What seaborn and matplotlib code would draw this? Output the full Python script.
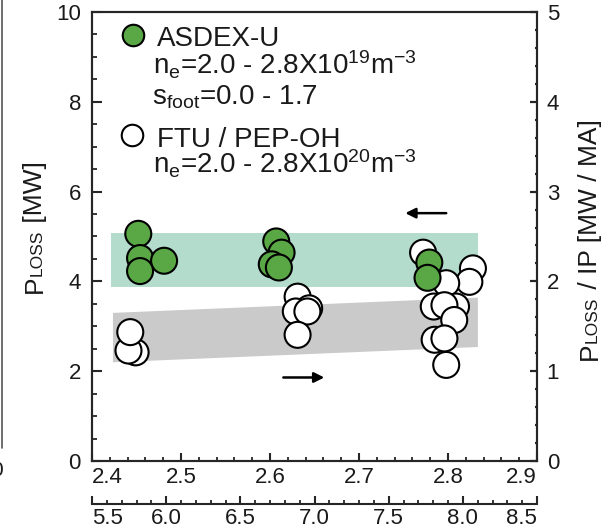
import numpy as np
import pandas as pd
import matplotlib
matplotlib.use("Agg")
import matplotlib.pyplot as plt
import matplotlib.transforms as mtrans
from matplotlib.ticker import MultipleLocator, FormatStrFormatter, FixedLocator
from matplotlib.lines import Line2D
import seaborn as sns

# ---------------- data ----------------
ftu_x = [2.449, 2.441, 2.443, 2.631, 2.644, 2.629, 2.642, 2.631,
         2.772, 2.828, 2.824, 2.798, 2.784, 2.809, 2.796, 2.807,
         2.785, 2.796, 2.798]
ftu_y = [2.42, 2.46, 2.87, 3.66, 3.40, 3.33, 3.33, 2.81,
         4.64, 4.29, 3.99, 3.96, 3.44, 3.44, 3.47, 3.14,
         2.70, 2.73, 2.14]
asdex_x = [2.452, 2.454, 2.481, 2.454, 2.607, 2.613, 2.602, 2.610,
           2.779, 2.777]
asdex_y = [5.06, 4.52, 4.46, 4.23, 4.89, 4.64, 4.38, 4.31,
           4.42, 4.08]

green_band_x = [2.421, 2.834]
green_band_lo = [3.88, 3.88]
green_band_hi = [5.07, 5.07]
gray_band_x = [2.423, 2.833]
gray_band_lo = [2.21, 2.55]
gray_band_hi = [3.31, 3.65]

xticks_main = [2.4, 2.5, 2.6, 2.7, 2.8, 2.9]
xticks_second = [5.5, 6.0, 6.5, 7.0, 7.5, 8.0, 8.5]
yticks_left = [0, 2, 4, 6, 8, 10]
yticks_right = [0, 1, 2, 3, 4, 5]

legend_lines = [
    "ASDEX-U",
    r"n$_{\mathrm{e}}$=2.0 - 2.8X10$^{19}$m$^{-3}$",
    r"s$_{\mathrm{foot}}$=0.0 - 1.7",
    "FTU / PEP-OH",
    r"n$_{\mathrm{e}}$=2.0 - 2.8X10$^{20}$m$^{-3}$",
]

# ---------------- style ----------------
sns.set_style("ticks")
plt.rcParams["font.family"] = ["Liberation Sans", "DejaVu Sans"]
plt.rcParams["mathtext.fontset"] = "custom"
plt.rcParams["mathtext.rm"] = "Liberation Sans"
plt.rcParams["mathtext.it"] = "Liberation Sans:italic"
plt.rcParams["mathtext.bf"] = "Liberation Sans:bold"
plt.rcParams["axes.linewidth"] = 1.5

GREEN = "#5aa845"
BAND_GREEN = "#b3dccd"
BAND_GRAY = "#cacaca"
TXT = "#1a1a1a"

fig = plt.figure(figsize=(6.13, 5.28), dpi=100)
ax = fig.add_axes([92 / 613, 1 - 461 / 528, (537 - 92) / 613, (461 - 12) / 528])

# bands
ax.fill_between(green_band_x, green_band_lo, green_band_hi, color=BAND_GREEN,
                linewidth=0, zorder=0)
ax.fill_between(gray_band_x, gray_band_lo, gray_band_hi, color=BAND_GRAY,
                linewidth=0, zorder=0)

df = pd.DataFrame({
    "x": ftu_x + asdex_x,
    "y": ftu_y + asdex_y,
    "machine": ["FTU/PEP-OH"] * len(ftu_x) + ["ASDEX-U"] * len(asdex_x),
})
sns.scatterplot(data=df, x="x", y="y", hue="machine",
                palette={"FTU/PEP-OH": "white", "ASDEX-U": GREEN},
                s=350, edgecolor="black", linewidth=1.5, legend=False,
                ax=ax, zorder=3)

ax.set_xlim(2.4, 2.9)
ax.set_ylim(0, 10)
ax.set_xlabel("")
ax.set_ylabel("")

# arrows
ax.annotate("", xy=(2.752, 5.52), xytext=(2.798, 5.52),
            arrowprops=dict(arrowstyle="-|>", color="black", lw=1.8,
                            mutation_scale=15, shrinkA=0, shrinkB=0))
ax.annotate("", xy=(2.661, 1.86), xytext=(2.615, 1.86),
            arrowprops=dict(arrowstyle="-|>", color="black", lw=1.8,
                            mutation_scale=15, shrinkA=0, shrinkB=0))

# in-plot legend
ax.scatter([2.446], [9.49], s=240, c=GREEN, edgecolors="black",
           linewidths=1.5, zorder=4, clip_on=False)
ax.scatter([2.4447], [7.26], s=240, c="white", edgecolors="black",
           linewidths=1.5, zorder=4, clip_on=False)
leg_pos = [(2.473, 9.24), (2.469, 8.60), (2.467, 7.93), (2.473, 6.99),
           (2.469, 6.41)]
for (lx, ly), txt in zip(leg_pos, legend_lines):
    ax.text(lx, ly, txt, fontsize=20, ha="left", va="baseline", color=TXT)

# ticks main axes
ax.xaxis.set_major_locator(FixedLocator(xticks_main))
ax.xaxis.set_minor_locator(MultipleLocator(0.02))
ax.xaxis.set_major_formatter(FormatStrFormatter("%.1f"))
ax.yaxis.set_major_locator(FixedLocator(yticks_left))
ax.yaxis.set_minor_locator(MultipleLocator(0.5))
ax.tick_params(axis="x", which="major", direction="in", length=6, width=1.5,
               labelsize=16, pad=4, top=False, labelcolor=TXT)
ax.tick_params(axis="x", which="minor", direction="in", length=3, width=1.3,
               top=False)
ax.tick_params(axis="y", which="major", direction="in", length=7, width=1.5,
               labelsize=16, pad=8, right=False, labelcolor=TXT)
ax.tick_params(axis="y", which="minor", direction="in", length=3.6, width=1.3,
               right=False)

# right axis
ax2 = ax.twinx()
ax2.set_ylim(0, 5)
ax2.yaxis.set_major_locator(FixedLocator(yticks_right))
ax2.yaxis.set_minor_locator(MultipleLocator(0.2))
ax2.tick_params(axis="y", which="major", direction="in", length=5, width=1.6,
                labelsize=16, pad=7, labelcolor=TXT)
ax2.tick_params(axis="y", which="minor", direction="in", length=1.8, width=1.6)
for sp in ax2.spines.values():
    sp.set_linewidth(1.5)

# second bottom axis
sec = ax.secondary_xaxis(-43 / 449, functions=(lambda x: 5.5 + (x - 2.4) * 6.0,
                                                lambda s: 2.4 + (s - 5.5) / 6.0))
sec.xaxis.set_major_locator(FixedLocator(xticks_second))
sec.xaxis.set_minor_locator(MultipleLocator(0.1))
sec.xaxis.set_major_formatter(FormatStrFormatter("%.1f"))
sec.tick_params(axis="x", which="major", direction="in", length=6, width=1.5,
                labelsize=16, pad=3, labelcolor=TXT)
sec.tick_params(axis="x", which="minor", direction="in", length=3, width=1.3)
sec.spines["bottom"].set_linewidth(1.5)

# rotated labels built from pieces (P + small-caps LOSS + rest)
ident = mtrans.IdentityTransform()


def rotated_label(x_base, y_center_top, pieces):
    texts = []
    for s, fs in pieces:
        t = fig.text(0, 0, s, fontsize=fs, rotation=90, rotation_mode="anchor",
                     ha="left", va="baseline", transform=ident, color=TXT)
        texts.append(t)
    fig.canvas.draw()
    r = fig.canvas.get_renderer()
    lens = [t.get_window_extent(r).height for t in texts]
    total = sum(lens)
    y = (528 - y_center_top) - total / 2
    for t, L in zip(texts, lens):
        t.set_position((x_base, y))
        y += L


rotated_label(42, 227, [("P", 19), ("LOSS", 12.5), (" [MW]", 19)])
rotated_label(597, 240, [("P", 19), ("LOSS", 12.5), (" / IP [MW / MA]", 19)])

# edge tick labels pulled inward as in the reference
fig.canvas.draw()
for axis_obj in (ax.xaxis, sec.xaxis):
    labs = axis_obj.get_majorticklabels()
    if labs:
        labs[0].set_horizontalalignment("left")
        labs[-1].set_horizontalalignment("right")

# remnants of neighbouring panel at left edge
fig.add_artist(Line2D([1.5, 1.5], [528 - 0, 528 - 448], transform=ident,
                      color="#555555", lw=1.2))
fig.text(-3, 528 - 470, "0", fontsize=15, ha="center", va="center",
         transform=ident, color=TXT)

fig.savefig("out.png", dpi=100)
